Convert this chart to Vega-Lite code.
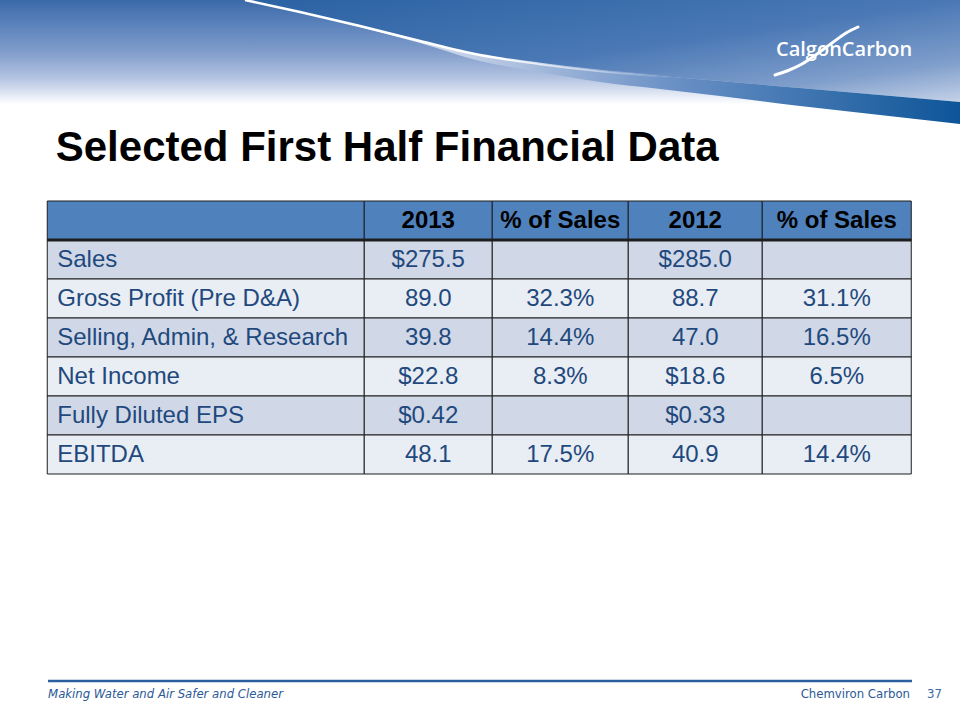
{
  "$schema": "https://vega.github.io/schema/vega-lite/v6.json",
  "padding": 0,
  "background": "white",
  "config": {"view": {"stroke": null}, "font": "Liberation Sans"},
  "datasets": {
    "table": [
      {"metric": "Sales", "v2013": "$275.5", "p2013": "", "v2012": "$285.0", "p2012": ""},
      {"metric": "Gross Profit (Pre D&A)", "v2013": "89.0", "p2013": "32.3%", "v2012": "88.7", "p2012": "31.1%"},
      {"metric": "Selling, Admin, & Research", "v2013": "39.8", "p2013": "14.4%", "v2012": "47.0", "p2012": "16.5%"},
      {"metric": "Net Income", "v2013": "$22.8", "p2013": "8.3%", "v2012": "$18.6", "p2012": "6.5%"},
      {"metric": "Fully Diluted EPS", "v2013": "$0.42", "p2013": "", "v2012": "$0.33", "p2012": ""},
      {"metric": "EBITDA", "v2013": "48.1", "p2013": "17.5%", "v2012": "40.9", "p2012": "14.4%"}
    ],
    "headers": [
      {"col": "metric", "label": ""},
      {"col": "v2013", "label": "2013"},
      {"col": "p2013", "label": "% of Sales"},
      {"col": "v2012", "label": "2012"},
      {"col": "p2012", "label": "% of Sales"}
    ],
    "swoosh": [
      {"x": 245, "curve": 0, "low": 0},
      {"x": 300, "curve": 12, "low": 12.5},
      {"x": 360, "curve": 26, "low": 27},
      {"x": 420, "curve": 41, "low": 43},
      {"x": 480, "curve": 55, "low": 61},
      {"x": 540, "curve": 64, "low": 72},
      {"x": 600, "curve": 71, "low": 82},
      {"x": 660, "curve": 76, "low": 89},
      {"x": 720, "curve": 81, "low": 96},
      {"x": 800, "curve": 88, "low": 106},
      {"x": 880, "curve": 95, "low": 115},
      {"x": 960, "curve": 102, "low": 124}
    ],
    "logoArc": [
      {"x": 775, "y": 75},
      {"x": 787, "y": 71},
      {"x": 802, "y": 64},
      {"x": 817, "y": 54},
      {"x": 832, "y": 43},
      {"x": 846, "y": 33},
      {"x": 858, "y": 27}
    ],
    "footer": [
      {"text": "Making Water and Air Safer and Cleaner", "slot": "start"},
      {"text": "Chemviron Carbon", "slot": "end"},
      {"text": "37", "slot": "page"}
    ]
  },
  "vconcat": [
    {
      "width": 960,
      "height": 126,
      "layer": [
        {
          "data": {"values": [{}]},
          "mark": {"type": "rect", "fill": {"gradient": "linear", "x1": 0, "y1": 0, "x2": 0, "y2": 1, "stops": [
            {"offset": 0, "color": "#3b6aa8"},
            {"offset": 0.19, "color": "#5a82bb"},
            {"offset": 0.4, "color": "#7e9bca"},
            {"offset": 0.62, "color": "#b3c3e1"},
            {"offset": 0.76, "color": "#e6ecf6"},
            {"offset": 0.83, "color": "#ffffff"},
            {"offset": 1, "color": "#ffffff"}]}},
          "encoding": {}
        },
        {
          "data": {"name": "swoosh"},
          "mark": {"type": "area", "clip": true, "interpolate": "monotone", "fill": {"gradient": "linear", "x1": 0, "y1": 0, "x2": 1, "y2": 1, "stops": [
            {"offset": 0, "color": "#2a62a3"},
            {"offset": 0.5, "color": "#4a78b5"},
            {"offset": 0.8, "color": "#7f9ecb"},
            {"offset": 1, "color": "#c5d2e8"}]}},
          "encoding": {
            "x": {"field": "x", "type": "quantitative", "scale": {"domain": [0, 960], "nice": false, "zero": false}, "axis": null},
            "y": {"field": "curve", "type": "quantitative", "scale": {"domain": [0, 126], "nice": false, "reverse": true}, "axis": null},
            "y2": {"datum": 0}
          }
        },
        {
          "data": {"name": "swoosh"},
          "mark": {"type": "area", "clip": true, "interpolate": "monotone", "fill": {"gradient": "linear", "x1": 0, "y1": 0, "x2": 1, "y2": 0, "stops": [
            {"offset": 0, "color": "#ffffff"},
            {"offset": 0.3, "color": "#c4d1e8"},
            {"offset": 0.6, "color": "#6a90c5"},
            {"offset": 1, "color": "#0d5598"}]}},
          "encoding": {
            "x": {"field": "x", "type": "quantitative"},
            "y": {"field": "curve", "type": "quantitative"},
            "y2": {"field": "low"}
          }
        },
        {
          "data": {"name": "swoosh"},
          "mark": {"type": "line", "clip": true, "interpolate": "monotone", "strokeWidth": 2.5, "stroke": {"gradient": "linear", "x1": 0, "y1": 0, "x2": 1, "y2": 0, "stops": [
            {"offset": 0, "color": "#ffffff"},
            {"offset": 0.35, "color": "#ffffff"},
            {"offset": 0.6, "color": "rgba(255,255,255,0)"},
            {"offset": 1, "color": "rgba(255,255,255,0)"}]}},
          "encoding": {
            "x": {"field": "x", "type": "quantitative"},
            "y": {"field": "curve", "type": "quantitative"}
          }
        },
        {
          "data": {"name": "logoArc"},
          "mark": {"type": "line", "clip": true, "interpolate": "monotone", "strokeWidth": 3, "stroke": "#ffffff", "strokeCap": "round"},
          "encoding": {
            "x": {"field": "x", "type": "quantitative"},
            "y": {"field": "y", "type": "quantitative"}
          }
        },
        {
          "data": {"values": [{"brand": "CalgonCarbon"}]},
          "mark": {"type": "text", "clip": true, "font": "Open Sans", "fontSize": 20, "fontWeight": 600, "fill": "#ffffff", "align": "left", "baseline": "alphabetic"},
          "encoding": {
            "x": {"datum": 776, "type": "quantitative"},
            "y": {"datum": 56, "type": "quantitative"},
            "text": {"field": "brand"}
          }
        }
      ]
    },
    {
      "title": {"text": "Selected First Half Financial Data", "anchor": "start", "dx": 10, "fontSize": 42, "font": "Liberation Sans", "fontWeight": "bold", "color": "#000000", "offset": 31},
      "spacing": 0,
      "bounds": "flush",
      "hconcat": [
        {
          "width": 317, "height": 273,
          "layer": [
            {"data": {"name": "table"}, "mark": {"type": "rect", "stroke": "#1e1e1e", "strokeWidth": 1},
             "encoding": {
               "y": {"field": "metric", "type": "nominal", "axis": null, "scale": {"domain": ["header", "Sales", "Gross Profit (Pre D&A)", "Selling, Admin, & Research", "Net Income", "Fully Diluted EPS", "EBITDA"], "paddingInner": 0, "paddingOuter": 0}},
               "fill": {"field": "metric", "type": "nominal", "legend": null, "scale": {"domain": ["Sales", "Gross Profit (Pre D&A)", "Selling, Admin, & Research", "Net Income", "Fully Diluted EPS", "EBITDA"], "range": ["#d0d8e8", "#e9edf4", "#d0d8e8", "#e9edf4", "#d0d8e8", "#e9edf4"]}}}},
            {"data": {"name": "headers"}, "transform": [{"filter": "datum.col === 'metric'"}], "mark": {"type": "rect", "fill": "#4f81bd", "stroke": "#1e1e1e", "strokeWidth": 1},
             "encoding": {"y": {"datum": "header"}}},
            {"data": {"values": [{}]}, "mark": {"type": "rule", "stroke": "#1e1e1e", "strokeWidth": 3},
             "encoding": {"y": {"datum": "Sales", "bandPosition": 0}}},
            {"data": {"name": "table"}, "mark": {"type": "text", "fontSize": 24, "fill": "#1f497d", "align": "left", "baseline": "middle", "dx": 10},
             "encoding": {"x": {"value": 0}, "y": {"field": "metric", "type": "nominal"}, "text": {"field": "metric"}}}
          ]
        },
        {
          "width": 128, "height": 273,
          "layer": [
            {"data": {"name": "table"}, "mark": {"type": "rect", "stroke": "#1e1e1e", "strokeWidth": 1},
             "encoding": {
               "y": {"field": "metric", "type": "nominal", "axis": null, "scale": {"domain": ["header", "Sales", "Gross Profit (Pre D&A)", "Selling, Admin, & Research", "Net Income", "Fully Diluted EPS", "EBITDA"], "paddingInner": 0, "paddingOuter": 0}},
               "fill": {"field": "metric", "type": "nominal", "legend": null, "scale": {"domain": ["Sales", "Gross Profit (Pre D&A)", "Selling, Admin, & Research", "Net Income", "Fully Diluted EPS", "EBITDA"], "range": ["#d0d8e8", "#e9edf4", "#d0d8e8", "#e9edf4", "#d0d8e8", "#e9edf4"]}}}},
            {"data": {"name": "headers"}, "transform": [{"filter": "datum.col === 'v2013'"}], "mark": {"type": "rect", "fill": "#4f81bd", "stroke": "#1e1e1e", "strokeWidth": 1},
             "encoding": {"y": {"datum": "header"}}},
            {"data": {"values": [{}]}, "mark": {"type": "rule", "stroke": "#1e1e1e", "strokeWidth": 3},
             "encoding": {"y": {"datum": "Sales", "bandPosition": 0}}},
            {"data": {"name": "table"}, "mark": {"type": "text", "fontSize": 24, "fill": "#1f497d", "align": "center", "baseline": "middle"},
             "encoding": {"y": {"field": "metric", "type": "nominal"}, "text": {"field": "v2013"}}},
            {"data": {"name": "headers"}, "transform": [{"filter": "datum.col === 'v2013'"}], "mark": {"type": "text", "fontSize": 24, "fontWeight": "bold", "fill": "#000000", "align": "center", "baseline": "middle"},
             "encoding": {"y": {"datum": "header"}, "text": {"field": "label"}}}
          ]
        },
        {
          "width": 136, "height": 273,
          "layer": [
            {"data": {"name": "table"}, "mark": {"type": "rect", "stroke": "#1e1e1e", "strokeWidth": 1},
             "encoding": {
               "y": {"field": "metric", "type": "nominal", "axis": null, "scale": {"domain": ["header", "Sales", "Gross Profit (Pre D&A)", "Selling, Admin, & Research", "Net Income", "Fully Diluted EPS", "EBITDA"], "paddingInner": 0, "paddingOuter": 0}},
               "fill": {"field": "metric", "type": "nominal", "legend": null, "scale": {"domain": ["Sales", "Gross Profit (Pre D&A)", "Selling, Admin, & Research", "Net Income", "Fully Diluted EPS", "EBITDA"], "range": ["#d0d8e8", "#e9edf4", "#d0d8e8", "#e9edf4", "#d0d8e8", "#e9edf4"]}}}},
            {"data": {"name": "headers"}, "transform": [{"filter": "datum.col === 'p2013'"}], "mark": {"type": "rect", "fill": "#4f81bd", "stroke": "#1e1e1e", "strokeWidth": 1},
             "encoding": {"y": {"datum": "header"}}},
            {"data": {"values": [{}]}, "mark": {"type": "rule", "stroke": "#1e1e1e", "strokeWidth": 3},
             "encoding": {"y": {"datum": "Sales", "bandPosition": 0}}},
            {"data": {"name": "table"}, "mark": {"type": "text", "fontSize": 24, "fill": "#1f497d", "align": "center", "baseline": "middle"},
             "encoding": {"y": {"field": "metric", "type": "nominal"}, "text": {"field": "p2013"}}},
            {"data": {"name": "headers"}, "transform": [{"filter": "datum.col === 'p2013'"}], "mark": {"type": "text", "fontSize": 24, "fontWeight": "bold", "fill": "#000000", "align": "center", "baseline": "middle"},
             "encoding": {"y": {"datum": "header"}, "text": {"field": "label"}}}
          ]
        },
        {
          "width": 134, "height": 273,
          "layer": [
            {"data": {"name": "table"}, "mark": {"type": "rect", "stroke": "#1e1e1e", "strokeWidth": 1},
             "encoding": {
               "y": {"field": "metric", "type": "nominal", "axis": null, "scale": {"domain": ["header", "Sales", "Gross Profit (Pre D&A)", "Selling, Admin, & Research", "Net Income", "Fully Diluted EPS", "EBITDA"], "paddingInner": 0, "paddingOuter": 0}},
               "fill": {"field": "metric", "type": "nominal", "legend": null, "scale": {"domain": ["Sales", "Gross Profit (Pre D&A)", "Selling, Admin, & Research", "Net Income", "Fully Diluted EPS", "EBITDA"], "range": ["#d0d8e8", "#e9edf4", "#d0d8e8", "#e9edf4", "#d0d8e8", "#e9edf4"]}}}},
            {"data": {"name": "headers"}, "transform": [{"filter": "datum.col === 'v2012'"}], "mark": {"type": "rect", "fill": "#4f81bd", "stroke": "#1e1e1e", "strokeWidth": 1},
             "encoding": {"y": {"datum": "header"}}},
            {"data": {"values": [{}]}, "mark": {"type": "rule", "stroke": "#1e1e1e", "strokeWidth": 3},
             "encoding": {"y": {"datum": "Sales", "bandPosition": 0}}},
            {"data": {"name": "table"}, "mark": {"type": "text", "fontSize": 24, "fill": "#1f497d", "align": "center", "baseline": "middle"},
             "encoding": {"y": {"field": "metric", "type": "nominal"}, "text": {"field": "v2012"}}},
            {"data": {"name": "headers"}, "transform": [{"filter": "datum.col === 'v2012'"}], "mark": {"type": "text", "fontSize": 24, "fontWeight": "bold", "fill": "#000000", "align": "center", "baseline": "middle"},
             "encoding": {"y": {"datum": "header"}, "text": {"field": "label"}}}
          ]
        },
        {
          "width": 149, "height": 273,
          "layer": [
            {"data": {"name": "table"}, "mark": {"type": "rect", "stroke": "#1e1e1e", "strokeWidth": 1},
             "encoding": {
               "y": {"field": "metric", "type": "nominal", "axis": null, "scale": {"domain": ["header", "Sales", "Gross Profit (Pre D&A)", "Selling, Admin, & Research", "Net Income", "Fully Diluted EPS", "EBITDA"], "paddingInner": 0, "paddingOuter": 0}},
               "fill": {"field": "metric", "type": "nominal", "legend": null, "scale": {"domain": ["Sales", "Gross Profit (Pre D&A)", "Selling, Admin, & Research", "Net Income", "Fully Diluted EPS", "EBITDA"], "range": ["#d0d8e8", "#e9edf4", "#d0d8e8", "#e9edf4", "#d0d8e8", "#e9edf4"]}}}},
            {"data": {"name": "headers"}, "transform": [{"filter": "datum.col === 'p2012'"}], "mark": {"type": "rect", "fill": "#4f81bd", "stroke": "#1e1e1e", "strokeWidth": 1},
             "encoding": {"y": {"datum": "header"}}},
            {"data": {"values": [{}]}, "mark": {"type": "rule", "stroke": "#1e1e1e", "strokeWidth": 3},
             "encoding": {"y": {"datum": "Sales", "bandPosition": 0}}},
            {"data": {"name": "table"}, "mark": {"type": "text", "fontSize": 24, "fill": "#1f497d", "align": "center", "baseline": "middle"},
             "encoding": {"y": {"field": "metric", "type": "nominal"}, "text": {"field": "p2012"}}},
            {"data": {"name": "headers"}, "transform": [{"filter": "datum.col === 'p2012'"}], "mark": {"type": "text", "fontSize": 24, "fontWeight": "bold", "fill": "#000000", "align": "center", "baseline": "middle"},
             "encoding": {"y": {"datum": "header"}, "text": {"field": "label"}}}
          ]
        }
      ]
    },
    {
      "width": 960,
      "height": 247,
      "layer": [
        {"data": {"values": [{}]}, "mark": {"type": "rule", "stroke": "#2b5f9f", "strokeWidth": 2.5},
         "encoding": {
           "x": {"datum": "start", "scale": {"type": "point", "domain": ["start", "end"], "padding": 0.0556}, "axis": null},
           "x2": {"datum": "end"},
           "y": {"datum": "line", "scale": {"type": "point", "domain": ["line", "text"], "range": [206, 223], "padding": 0}, "axis": null}}},
        {"data": {"name": "footer"}, "transform": [{"filter": "datum.slot === 'start'"}],
         "mark": {"type": "text", "font": "Liberation Sans Narrow, DejaVu Sans Condensed, Liberation Sans", "fontStyle": "italic", "fontSize": 13, "fill": "#2b5a96", "align": "left", "baseline": "alphabetic"},
         "encoding": {"x": {"datum": "start"}, "y": {"datum": "text"}, "text": {"field": "text"}}},
        {"data": {"name": "footer"}, "transform": [{"filter": "datum.slot === 'end'"}],
         "mark": {"type": "text", "font": "Liberation Sans Narrow, DejaVu Sans Condensed, Liberation Sans", "fontSize": 13, "fill": "#2b5a96", "align": "right", "baseline": "alphabetic", "dx": -2},
         "encoding": {"x": {"datum": "end"}, "y": {"datum": "text"}, "text": {"field": "text"}}},
        {"data": {"name": "footer"}, "transform": [{"filter": "datum.slot === 'page'"}],
         "mark": {"type": "text", "font": "Liberation Sans Narrow, DejaVu Sans Condensed, Liberation Sans", "fontSize": 13, "fill": "#3a6aa5", "align": "left", "baseline": "alphabetic", "dx": 15},
         "encoding": {"x": {"datum": "end"}, "y": {"datum": "text"}, "text": {"field": "text"}}}
      ]
    }
  ],
  "spacing": 0,
  "center": true
}
